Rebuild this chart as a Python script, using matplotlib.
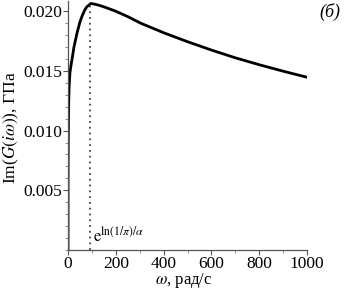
import matplotlib
matplotlib.use("Agg")
import matplotlib.pyplot as plt
from matplotlib.ticker import MultipleLocator

omega = [0, 0.2, 0.5, 1, 2, 3, 5, 8, 12, 17, 25, 38, 50, 59, 70, 80, 87, 95, 110, 130,
         160, 200, 250, 304, 400, 500, 600, 700, 800, 900, 1000]
im_g = [0, 0.0055, 0.0075, 0.0092, 0.0112, 0.0125, 0.0138, 0.0148, 0.0154, 0.0160,
        0.0170, 0.0182, 0.0191, 0.0196, 0.0201, 0.0204, 0.0205, 0.02065, 0.0206, 0.0205,
        0.0203, 0.02, 0.01955, 0.0190, 0.0182, 0.01745, 0.01675, 0.0161, 0.01552,
        0.01498, 0.01447]
peak_omega = 93
peak_value = 0.02065
x_ticks = [0, 200, 400, 600, 800, 1000]
y_ticks = [0.005, 0.010, 0.015, 0.020]

plt.rcParams['font.family'] = ['Liberation Serif', 'DejaVu Serif']
plt.rcParams['mathtext.fontset'] = 'stix'

fig = plt.figure(figsize=(3.48, 2.89), dpi=100)
ax = fig.add_axes([68/348, 1 - 250/289, (307-68)/348, 249.5/289])

ax.plot(omega, im_g, color='black', lw=2.0, solid_joinstyle='round')
ax.plot([peak_omega, peak_omega], [0, peak_value], color='#444444', lw=1.3,
        linestyle=(0, (1, 2.2)))

ax.set_xlim(0, 1000)
ax.set_ylim(0, 0.0209)
ax.set_xticks(x_ticks)
ax.set_yticks(y_ticks)
ax.set_yticklabels([f"{v:.3f}" for v in y_ticks])
ax.xaxis.set_minor_locator(MultipleLocator(100))
ax.yaxis.set_minor_locator(MultipleLocator(0.001))

for s in ['top', 'right']:
    ax.spines[s].set_visible(False)
for s in ['left', 'bottom']:
    ax.spines[s].set_color('#555555')
    ax.spines[s].set_linewidth(0.9)

ax.tick_params(which='major', direction='out', length=3.5, width=0.8, color='#555555',
               labelsize=12.5, pad=0.5)
ax.tick_params(which='minor', direction='out', length=2, width=0.6, color='#777777')

fig.text(184/348, 1 - 284/289, r'$\omega$, рад/с', fontsize=12, ha='center',
         va='baseline')
fig.text(11/348, 1 - 128/289, r'Im($G(i\omega)$), ГПа', fontsize=12.5, rotation=90,
         ha='center', va='center')

ax.text(peak_omega + 10, 0.0003, r'$\mathrm{e}^{\ln(1/\pi)/\alpha}$', fontsize=12,
        ha='left', va='bottom')
fig.text(340/348, 1 - 12/289, '(б)', fontsize=13, style='italic', ha='right', va='center')

fig.savefig('out.png', dpi=100)
